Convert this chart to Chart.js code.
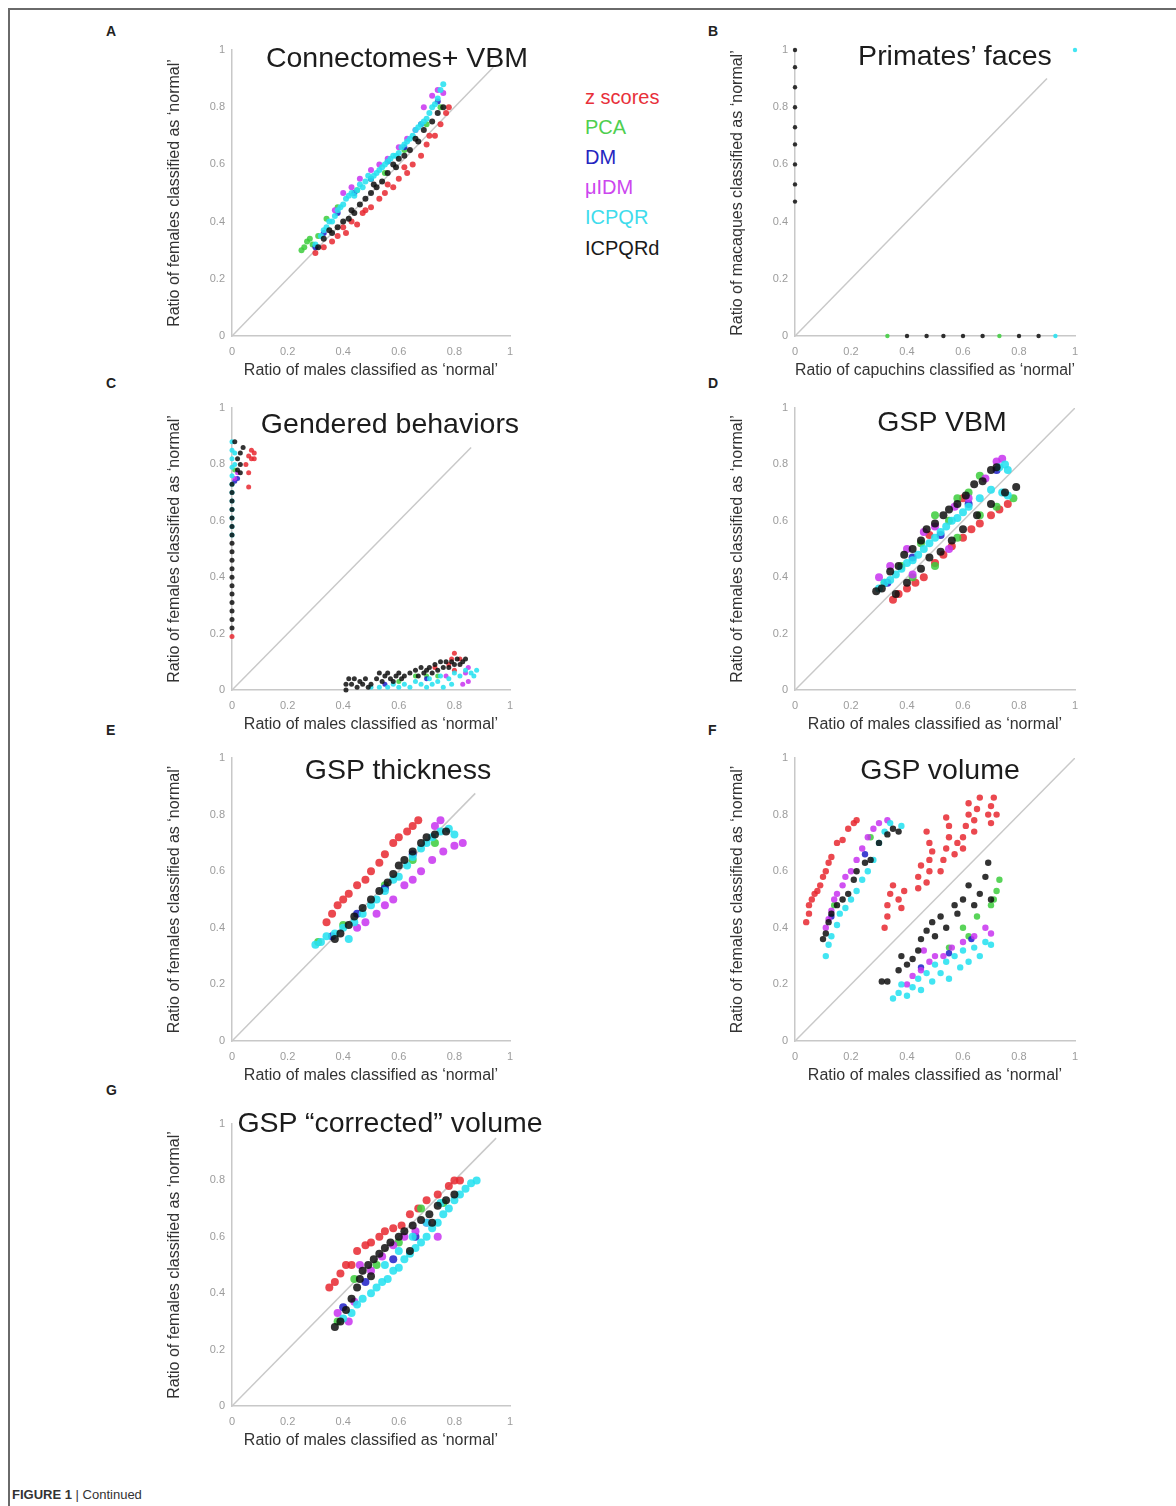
<!DOCTYPE html>
<html>
<head>
<meta charset="utf-8">
<script src="https://cdn.jsdelivr.net/npm/chart.js@4.4.0/dist/chart.umd.min.js"></script>
<style>
  body { margin: 0; background: #fff; font-family: "Liberation Sans", Arial, sans-serif; }
  #page { position: relative; width: 1176px; height: 1506px; overflow: hidden; }
  .frame { position: absolute; left: 8px; top: 8px; width: 1200px; height: 1520px; border-top: 2px solid #6a6a6a; border-left: 2px solid #6a6a6a; }
  canvas { position: absolute; }
  .letter { position: absolute; font-weight: bold; font-size: 14px; color: #222; z-index: 2; }
  .title { position: absolute; transform: translate(-50%, -50%); white-space: nowrap; font-size: 28.5px; color: #1c1c1c; z-index: 2; }
  .leg { position: absolute; left: 585px; font-size: 20px; white-space: nowrap; z-index: 2; }
  .caption { position: absolute; left: 12px; top: 1487px; font-size: 13px; color: #333; }
</style>
</head>
<body>
<div id="page">
  <div class="frame"></div>
  <div class="letter" style="left:106px;top:23px">A</div>
  <div class="letter" style="left:708px;top:23px">B</div>
  <div class="letter" style="left:106px;top:375px">C</div>
  <div class="letter" style="left:708px;top:375px">D</div>
  <div class="letter" style="left:106px;top:722px">E</div>
  <div class="letter" style="left:708px;top:722px">F</div>
  <div class="letter" style="left:106px;top:1082px">G</div>

  <div class="title" style="left:397px;top:57px">Connectomes+ VBM</div>
  <div class="title" style="left:955px;top:55px">Primates’ faces</div>
  <div class="title" style="left:390px;top:423px">Gendered behaviors</div>
  <div class="title" style="left:942px;top:421px">GSP VBM</div>
  <div class="title" style="left:398px;top:769px">GSP thickness</div>
  <div class="title" style="left:940px;top:769px">GSP volume</div>
  <div class="title" style="left:390px;top:1122px">GSP “corrected” volume</div>

  <div class="leg" style="top:86px;color:#e8303a">z scores</div>
  <div class="leg" style="top:116px;color:#4fcf4f">PCA</div>
  <div class="leg" style="top:146px;color:#2525c0">DM</div>
  <div class="leg" style="top:176px;color:#cc46ee">μIDM</div>
  <div class="leg" style="top:206px;color:#3fdcec">ICPQR</div>
  <div class="leg" style="top:237px;color:#1a1a1a">ICPQRd</div>

  <div class="caption"><b>FIGURE 1</b> | Continued</div>
</div>
<script>
const seriesNames = ["z scores", "PCA", "DM", "μIDM", "ICPQR", "ICPQRd"];
const seriesColors = [
  "rgba(232,40,48,0.85)", "rgba(60,205,60,0.85)", "rgba(30,30,200,0.85)",
  "rgba(200,50,240,0.85)", "rgba(40,225,240,0.88)", "rgba(15,15,15,0.85)"
];
const tickValues = [0, 0.2, 0.4, 0.6, 0.8, 1];

// A - Connectomes+ VBM
const aZ = [[0.30,0.29],[0.33,0.31],[0.36,0.33],[0.38,0.35],[0.41,0.36],[0.43,0.40],[0.45,0.39],[0.47,0.43],[0.50,0.45],[0.53,0.48],[0.55,0.50],[0.58,0.52],[0.60,0.55],[0.63,0.57],[0.65,0.60],[0.68,0.63],[0.70,0.67],[0.73,0.70],[0.75,0.74],[0.77,0.78],[0.78,0.80],[0.40,0.38],[0.48,0.44],[0.56,0.53],[0.62,0.59],[0.71,0.70]];
const aPca = [[0.25,0.30],[0.26,0.31],[0.27,0.33],[0.29,0.32],[0.28,0.34],[0.31,0.35],[0.34,0.41],[0.38,0.45],[0.45,0.51],[0.50,0.55],[0.55,0.57],[0.62,0.65],[0.70,0.74],[0.75,0.80]];
const aDm = [[0.30,0.31],[0.33,0.36],[0.38,0.43],[0.44,0.50],[0.50,0.55],[0.56,0.61],[0.62,0.66],[0.68,0.74],[0.74,0.82]];
const aMu = [[0.37,0.44],[0.40,0.50],[0.43,0.52],[0.46,0.55],[0.50,0.58],[0.53,0.60],[0.56,0.62],[0.60,0.66],[0.63,0.69],[0.66,0.72],[0.69,0.80],[0.72,0.84],[0.74,0.86],[0.76,0.85]];
const aIcp = [[0.30,0.32],[0.32,0.35],[0.34,0.38],[0.35,0.40],[0.37,0.42],[0.38,0.44],[0.40,0.46],[0.41,0.48],[0.43,0.50],[0.45,0.51],[0.46,0.53],[0.48,0.54],[0.50,0.55],[0.52,0.57],[0.54,0.59],[0.56,0.61],[0.58,0.63],[0.60,0.64],[0.62,0.67],[0.64,0.69],[0.66,0.72],[0.68,0.74],[0.70,0.76],[0.72,0.80],[0.74,0.83],[0.75,0.86],[0.76,0.88],
  [0.33,0.37],[0.36,0.40],[0.39,0.45],[0.42,0.49],[0.44,0.49],[0.47,0.52],[0.49,0.56],[0.51,0.56],[0.53,0.58],[0.55,0.60],[0.57,0.62],[0.59,0.63],[0.61,0.66],[0.63,0.68],[0.65,0.70],[0.67,0.73],[0.69,0.75],[0.71,0.78],[0.73,0.81]];
const aIcpd = [[0.31,0.31],[0.33,0.34],[0.36,0.36],[0.38,0.38],[0.40,0.40],[0.42,0.41],[0.44,0.43],[0.46,0.46],[0.48,0.48],[0.50,0.50],[0.52,0.52],[0.54,0.54],[0.56,0.57],[0.58,0.60],[0.60,0.62],[0.62,0.63],[0.64,0.65],[0.67,0.68],[0.69,0.72],[0.72,0.75],[0.74,0.78],[0.76,0.80],[0.35,0.37],[0.43,0.44],[0.51,0.53],[0.59,0.59],[0.66,0.69]];

// B - Primates' faces
const bZ = [];
const bPca = [[0.33,0],[0.73,0]];
const bDm = [];
const bMu = [];
const bIcp = [[0.93,0],[1,1]];
const bIcpd = [[0,1],[0,0.94],[0,0.87],[0,0.80],[0,0.73],[0,0.67],[0,0.60],[0,0.53],[0,0.47],[0.40,0],[0.47,0],[0.53,0],[0.60,0],[0.67,0],[0.80,0],[0.87,0]];

// C - Gendered behaviors
const cZ = [[0,0.19],[0.06,0.72],[0.06,0.77],[0.06,0.83],[0.07,0.85],[0.08,0.84],[0.07,0.82],[0.08,0.82],[0.05,0.80],[0.73,0.08],[0.78,0.09],[0.80,0.07],[0.80,0.13],[0.82,0.11],[0.79,0.11]];
const cPca = [[0.01,0.78],[0.60,0.03],[0.66,0.05],[0.70,0.05],[0.74,0.05]];
const cDm = [[0.01,0.74],[0.02,0.75],[0.55,0.02],[0.70,0.04]];
const cMu = [[0.01,0.75],[0.02,0.77],[0.77,0.05],[0.83,0.02],[0.84,0.06],[0.85,0.03],[0.85,0.08]];
const cIcp = [[0,0.55],[0,0.58],[0,0.61],[0,0.64],[0,0.67],[0,0.70],[0,0.73],[0,0.76],[0,0.79],[0,0.82],[0,0.85],[0,0.88],[0.01,0.80],[0.01,0.84],[0.50,0.01],[0.53,0.01],[0.56,0.01],[0.58,0.02],[0.60,0.01],[0.62,0.02],[0.64,0.01],[0.66,0.03],[0.68,0.02],[0.70,0.01],[0.71,0.04],[0.72,0.02],[0.74,0.03],[0.75,0.05],[0.76,0.01],[0.78,0.04],[0.79,0.02],[0.80,0.06],[0.82,0.05],[0.84,0.07],[0.86,0.06],[0.87,0.05],[0.88,0.07]];
const cIcpd = [[0,0.22],[0,0.25],[0,0.28],[0,0.31],[0,0.34],[0,0.37],[0,0.40],[0,0.43],[0,0.46],[0,0.49],[0,0.52],[0,0.55],[0,0.58],[0,0.61],[0,0.64],[0,0.67],[0,0.70],[0,0.73],[0.02,0.78],[0.03,0.80],[0.02,0.82],[0.03,0.84],[0.04,0.86],[0.01,0.88],[0.03,0.77],[0.41,0.00],[0.41,0.02],[0.42,0.04],[0.43,0.02],[0.44,0.04],[0.45,0.01],[0.46,0.03],[0.47,0.02],[0.48,0.04],[0.49,0.01],[0.50,0.02],[0.52,0.04],[0.53,0.06],[0.54,0.03],[0.55,0.05],[0.56,0.06],[0.57,0.04],[0.58,0.03],[0.59,0.05],[0.60,0.06],[0.61,0.04],[0.62,0.05],[0.64,0.06],[0.66,0.07],[0.67,0.05],[0.68,0.08],[0.69,0.06],[0.70,0.07],[0.71,0.08],[0.72,0.06],[0.73,0.09],[0.74,0.07],[0.75,0.10],[0.76,0.08],[0.77,0.10],[0.78,0.08],[0.79,0.10],[0.80,0.09],[0.81,0.11],[0.82,0.09],[0.83,0.10],[0.84,0.11]];

// D - GSP VBM
const dZ = [[0.35,0.32],[0.37,0.34],[0.40,0.36],[0.43,0.38],[0.46,0.40],[0.50,0.45],[0.53,0.48],[0.56,0.51],[0.60,0.54],[0.63,0.57],[0.66,0.59],[0.70,0.62],[0.73,0.64],[0.76,0.66],[0.48,0.55],[0.60,0.68]];
const dPca = [[0.32,0.38],[0.38,0.44],[0.45,0.52],[0.50,0.62],[0.55,0.60],[0.58,0.68],[0.62,0.70],[0.66,0.76],[0.42,0.40],[0.50,0.44],[0.58,0.54],[0.66,0.62],[0.72,0.65],[0.78,0.68]];
const dDm = [[0.33,0.38],[0.42,0.47],[0.52,0.55],[0.62,0.66],[0.72,0.78]];
const dMu = [[0.30,0.40],[0.34,0.44],[0.40,0.50],[0.46,0.56],[0.50,0.58],[0.57,0.65],[0.62,0.68],[0.68,0.75],[0.72,0.81],[0.74,0.82],[0.42,0.41],[0.55,0.50]];
const dIcp = [[0.30,0.36],[0.32,0.38],[0.34,0.39],[0.36,0.41],[0.38,0.43],[0.40,0.45],[0.42,0.46],[0.44,0.48],[0.46,0.50],[0.48,0.52],[0.50,0.54],[0.52,0.56],[0.54,0.58],[0.56,0.60],[0.58,0.61],[0.60,0.63],[0.62,0.65],[0.66,0.68],[0.70,0.71],[0.73,0.79],[0.75,0.80],[0.76,0.78],[0.74,0.70],[0.76,0.69]];
const dIcpd = [[0.29,0.35],[0.31,0.36],[0.34,0.42],[0.37,0.44],[0.39,0.48],[0.42,0.50],[0.45,0.53],[0.47,0.57],[0.50,0.59],[0.53,0.62],[0.55,0.64],[0.58,0.66],[0.61,0.69],[0.64,0.73],[0.67,0.74],[0.70,0.78],[0.72,0.79],[0.36,0.34],[0.40,0.38],[0.45,0.43],[0.48,0.47],[0.52,0.49],[0.56,0.53],[0.60,0.57],[0.65,0.62],[0.70,0.66],[0.75,0.70],[0.79,0.72]];

// E - GSP thickness
const eZ = [[0.34,0.42],[0.36,0.45],[0.38,0.48],[0.40,0.50],[0.42,0.52],[0.45,0.55],[0.48,0.57],[0.50,0.60],[0.53,0.63],[0.55,0.66],[0.58,0.70],[0.60,0.72],[0.63,0.74],[0.65,0.76],[0.67,0.78]];
const ePca = [[0.31,0.35],[0.40,0.41],[0.55,0.55],[0.65,0.64],[0.73,0.70]];
const eDm = [[0.36,0.37],[0.45,0.45],[0.55,0.54],[0.65,0.66]];
const eMu = [[0.45,0.40],[0.48,0.42],[0.52,0.45],[0.55,0.48],[0.58,0.50],[0.62,0.55],[0.65,0.57],[0.68,0.60],[0.72,0.64],[0.76,0.67],[0.80,0.69],[0.83,0.70],[0.75,0.78],[0.73,0.76]];
const eIcp = [[0.30,0.34],[0.32,0.35],[0.34,0.37],[0.37,0.38],[0.40,0.40],[0.42,0.36],[0.44,0.42],[0.47,0.45],[0.50,0.48],[0.52,0.50],[0.55,0.53],[0.58,0.57],[0.60,0.58],[0.63,0.62],[0.65,0.65],[0.68,0.68],[0.70,0.70],[0.72,0.72],[0.75,0.74],[0.78,0.75],[0.80,0.73]];
const eIcpd = [[0.37,0.36],[0.39,0.38],[0.42,0.41],[0.44,0.44],[0.47,0.47],[0.50,0.50],[0.53,0.53],[0.56,0.56],[0.58,0.59],[0.60,0.62],[0.62,0.64],[0.65,0.67],[0.68,0.70],[0.70,0.72],[0.73,0.73],[0.77,0.74]];

// F - GSP volume
const fZ = [[0.04,0.42],[0.05,0.45],[0.05,0.48],[0.06,0.50],[0.07,0.52],[0.08,0.53],[0.09,0.55],[0.10,0.58],[0.11,0.60],[0.12,0.63],[0.13,0.65],[0.15,0.70],[0.17,0.71],[0.19,0.75],[0.21,0.77],[0.22,0.78],
  [0.32,0.40],[0.33,0.44],[0.33,0.48],[0.34,0.52],[0.35,0.55],[0.37,0.50],[0.38,0.47],[0.39,0.53],
  [0.44,0.54],[0.44,0.58],[0.45,0.62],[0.47,0.56],[0.48,0.60],[0.48,0.64],[0.49,0.67],[0.48,0.70],[0.47,0.74],
  [0.52,0.60],[0.53,0.64],[0.54,0.68],[0.55,0.72],[0.55,0.76],[0.54,0.79],[0.57,0.66],[0.58,0.70],
  [0.60,0.68],[0.60,0.72],[0.61,0.76],[0.62,0.80],[0.62,0.84],[0.64,0.74],[0.64,0.78],[0.65,0.82],[0.66,0.86],
  [0.69,0.80],[0.70,0.83],[0.71,0.86],[0.72,0.80],[0.70,0.77]];
const fPca = [[0.14,0.48],[0.27,0.72],[0.55,0.33],[0.60,0.40],[0.62,0.37],[0.65,0.44],[0.70,0.48],[0.71,0.50],[0.72,0.53],[0.73,0.57]];
const fDm = [[0.13,0.44],[0.25,0.66],[0.45,0.26],[0.55,0.31],[0.63,0.36]];
const fMu = [[0.11,0.40],[0.12,0.43],[0.13,0.46],[0.14,0.50],[0.15,0.52],[0.17,0.55],[0.18,0.58],[0.20,0.60],[0.22,0.64],[0.24,0.68],[0.26,0.72],[0.28,0.75],[0.30,0.77],[0.33,0.78],
  [0.40,0.20],[0.42,0.23],[0.45,0.25],[0.46,0.32],[0.48,0.28],[0.50,0.30],[0.53,0.30],[0.56,0.33],[0.60,0.35],[0.64,0.37],[0.68,0.40],[0.70,0.38]];
const fIcp = [[0.11,0.30],[0.12,0.34],[0.13,0.37],[0.15,0.41],[0.16,0.45],[0.18,0.47],[0.20,0.50],[0.22,0.53],[0.24,0.57],[0.26,0.60],[0.28,0.64],[0.30,0.70],[0.32,0.74],[0.34,0.77],[0.38,0.76],
  [0.35,0.15],[0.37,0.17],[0.38,0.20],[0.40,0.16],[0.42,0.19],[0.44,0.22],[0.45,0.18],[0.47,0.24],[0.49,0.21],[0.50,0.27],[0.52,0.24],[0.54,0.28],[0.55,0.22],[0.57,0.30],[0.59,0.26],[0.60,0.32],[0.62,0.28],[0.64,0.33],[0.66,0.30],[0.68,0.35],[0.70,0.34]];
const fIcpd = [[0.10,0.36],[0.11,0.38],[0.12,0.42],[0.13,0.45],[0.15,0.48],[0.17,0.50],[0.19,0.52],[0.21,0.57],[0.22,0.60],[0.25,0.63],[0.27,0.64],[0.30,0.70],[0.33,0.73],[0.35,0.75],[0.37,0.74],
  [0.31,0.21],[0.33,0.21],[0.37,0.25],[0.38,0.30],[0.40,0.27],[0.42,0.29],[0.44,0.32],[0.45,0.36],[0.47,0.39],[0.49,0.42],[0.50,0.37],[0.52,0.44],[0.54,0.40],[0.57,0.48],[0.58,0.45],[0.60,0.50],[0.62,0.55],[0.64,0.48],[0.66,0.52],[0.68,0.58],[0.69,0.63],[0.70,0.50]];

// G - GSP "corrected" volume
const gZ = [[0.35,0.42],[0.37,0.44],[0.39,0.47],[0.41,0.50],[0.43,0.50],[0.45,0.55],[0.48,0.57],[0.50,0.58],[0.53,0.60],[0.55,0.62],[0.58,0.63],[0.61,0.64],[0.64,0.68],[0.67,0.70],[0.70,0.73],[0.74,0.75],[0.78,0.78],[0.80,0.80],[0.82,0.80]];
const gPca = [[0.38,0.30],[0.44,0.45],[0.52,0.50],[0.60,0.58],[0.68,0.70],[0.76,0.72]];
const gDm = [[0.40,0.35],[0.48,0.44],[0.58,0.52],[0.66,0.60]];
const gMu = [[0.38,0.33],[0.42,0.30],[0.44,0.37],[0.46,0.50],[0.50,0.48],[0.54,0.53],[0.58,0.57],[0.62,0.60],[0.66,0.62],[0.70,0.65],[0.74,0.60]];
const gIcp = [[0.40,0.31],[0.43,0.33],[0.45,0.36],[0.47,0.38],[0.50,0.40],[0.52,0.42],[0.54,0.44],[0.56,0.45],[0.58,0.48],[0.60,0.49],[0.62,0.52],[0.64,0.54],[0.66,0.56],[0.68,0.58],[0.70,0.60],[0.72,0.63],[0.74,0.65],[0.76,0.68],[0.78,0.70],[0.80,0.73],[0.82,0.75],[0.84,0.77],[0.86,0.79],[0.88,0.80],[0.55,0.50],[0.60,0.55],[0.65,0.60],[0.70,0.65],[0.75,0.72]];
const gIcpd = [[0.37,0.28],[0.39,0.30],[0.41,0.34],[0.43,0.38],[0.45,0.42],[0.46,0.45],[0.47,0.48],[0.49,0.50],[0.51,0.52],[0.53,0.54],[0.55,0.56],[0.57,0.58],[0.60,0.60],[0.62,0.62],[0.65,0.64],[0.68,0.66],[0.71,0.68],[0.74,0.71],[0.77,0.73],[0.80,0.75],[0.50,0.46],[0.64,0.55],[0.72,0.65]];

const maleX = "Ratio of males classified as ‘normal’";
const femaleY = "Ratio of females classified as ‘normal’";

const panels = [
  { box: [232, 50, 278, 286], diag: 0.94, r: 3, xTitle: maleX, yTitle: femaleY, series: [aZ, aPca, aDm, aMu, aIcp, aIcpd] },
  { box: [795, 50, 280, 286], diag: 0.90, r: 2.2, xTitle: "Ratio of capuchins classified as ‘normal’", yTitle: "Ratio of macaques classified as ‘normal’", series: [bZ, bPca, bDm, bMu, bIcp, bIcpd] },
  { box: [232, 408, 278, 282], diag: 0.86, r: 2.5, xTitle: maleX, yTitle: femaleY, series: [cZ, cPca, cDm, cMu, cIcp, cIcpd] },
  { box: [795, 408, 280, 282], diag: 1.0, r: 4, xTitle: maleX, yTitle: femaleY, series: [dZ, dPca, dDm, dMu, dIcp, dIcpd] },
  { box: [232, 758, 278, 283], diag: 0.875, r: 4, xTitle: maleX, yTitle: femaleY, series: [eZ, ePca, eDm, eMu, eIcp, eIcpd] },
  { box: [795, 758, 280, 283], diag: 1.0, r: 3.2, xTitle: maleX, yTitle: femaleY, series: [fZ, fPca, fDm, fMu, fIcp, fIcpd] },
  { box: [232, 1124, 278, 282], diag: 0.95, r: 4, xTitle: maleX, yTitle: femaleY, series: [gZ, gPca, gDm, gMu, gIcp, gIcpd] }
];

Chart.defaults.font.family = "'Liberation Sans', Arial, sans-serif";

function axisOptions(titleText, isX) {
  return {
    type: "linear",
    min: 0,
    max: 1,
    afterBuildTicks(scale) { scale.ticks = tickValues.map(v => ({ value: v })); },
    afterFit(scale) {
      if (isX) { scale.height = 44; scale.paddingLeft = 0; scale.paddingRight = 0; }
      else { scale.width = 67; scale.paddingTop = 0; scale.paddingBottom = 0; }
    },
    grid: { display: false, drawTicks: false, tickLength: 0 },
    border: { color: "#c8c8c8", width: 1.5 },
    ticks: { padding: isX ? 9 : 7, color: "#9c9c9c", font: { size: 11 }, callback: v => String(v) },
    title: { display: true, text: titleText, color: "#333", font: { size: 16 }, padding: 0 }
  };
}

function makeChart(p) {
  const [left, top, w, h] = p.box;
  const padT = 15, padR = 22;
  const cv = document.createElement("canvas");
  cv.width = 67 + w + padR;
  cv.height = padT + h + 44;
  cv.style.left = (left - 67) + "px";
  cv.style.top = (top - padT) + "px";
  document.getElementById("page").appendChild(cv);

  const datasets = p.series.map((pts, i) => ({
    label: seriesNames[i],
    data: pts.map(([x, y]) => ({ x, y })),
    backgroundColor: seriesColors[i],
    borderWidth: 0,
    pointRadius: p.r,
    order: 6 - i,
    clip: false
  }));
  datasets.push({
    label: "identity",
    data: [{ x: 0, y: 0 }, { x: p.diag, y: p.diag }],
    showLine: true,
    borderColor: "#c9c9c9",
    borderWidth: 1.5,
    pointRadius: 0,
    order: 20
  });

  new Chart(cv, {
    type: "scatter",
    data: { datasets },
    options: {
      responsive: false,
      animation: false,
      devicePixelRatio: 1,
      layout: { padding: { top: padT, right: padR, left: 0, bottom: 0 } },
      plugins: { legend: { display: false }, tooltip: { enabled: false } },
      scales: { x: axisOptions(p.xTitle, true), y: axisOptions(p.yTitle, false) }
    }
  });
}

panels.forEach(makeChart);
</script>
</body>
</html>
